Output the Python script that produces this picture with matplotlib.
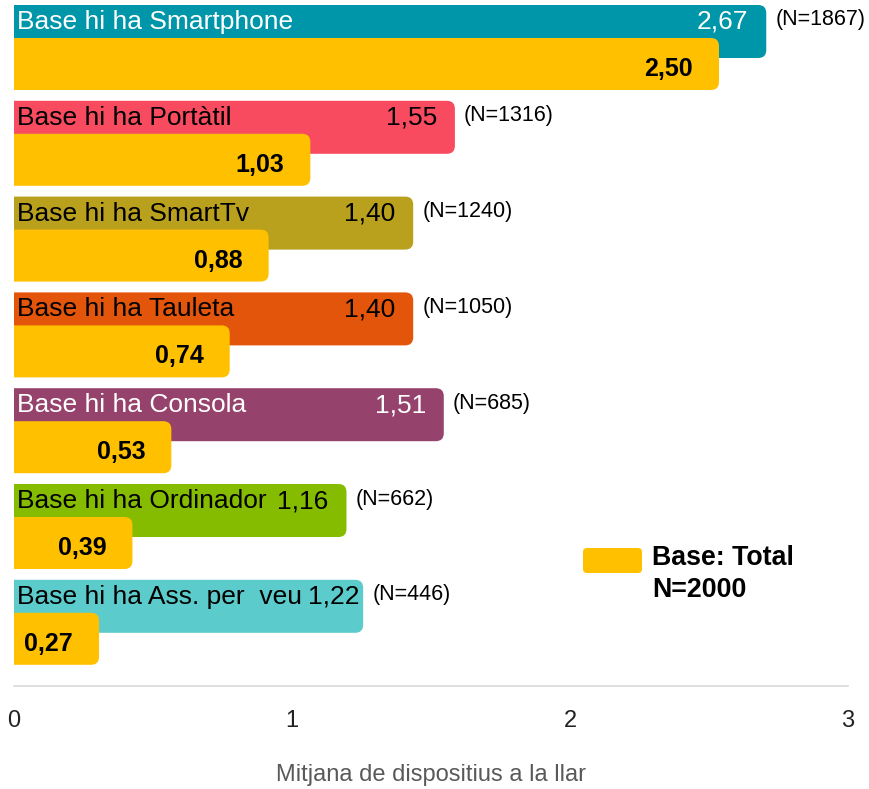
import matplotlib
matplotlib.use('Agg')
import matplotlib.pyplot as plt
from matplotlib.patches import FancyBboxPatch
from matplotlib.transforms import IdentityTransform

plt.rcParams['font.family'] = ['Liberation Sans', 'DejaVu Sans']

# dades
categories = ['Smartphone', 'Portàtil', 'SmartTv', 'Tauleta', 'Consola', 'Ordinador', 'Ass. per  veu']
base_devices = [2.67, 1.55, 1.40, 1.40, 1.51, 1.16, 1.22]
total_devices = [2.50, 1.03, 0.88, 0.74, 0.53, 0.39, 0.27]
base_n = [1867, 1316, 1240, 1050, 685, 662, 446]
total_n = 2000

colors = ['#0096A9', '#F84B5F', '#B9A01D', '#E3550B', '#95426C', '#85BC00', '#5BCBCB']
text_colors = ['white', 'black', 'black', 'black', 'white', 'black', 'black']
yellow = '#FFC000'

W, H = 869, 789
fig = plt.figure(figsize=(W / 100, H / 100), dpi=100)
ax = fig.add_axes([14 / W, 103 / H, 834 / W, 686 / H])

group_px = 95.8
px_x = 3 / 834           # unitats x per pixel
px_y = 1 / group_px      # unitats y per pixel
aspect = px_y / px_x
ax.set_xlim(0, 3)
ax.set_ylim(686 * px_y, 0)

pad = 10 * px_x
radius = 8 * px_x


def rounded_bar(y, value, height, color):
    # barra amb cantonades arrodonides (la part esquerra queda retallada)
    p = FancyBboxPatch((-0.1, y), value + 0.1 + pad, height,
                       boxstyle=f'round,pad=0,rounding_size={radius}',
                       mutation_aspect=aspect, facecolor=color, edgecolor='none')
    ax.add_patch(p)


labels = []
for i in range(len(categories)):
    rounded_bar(i + 5 * px_y, base_devices[i], 53 * px_y, colors[i])
    rounded_bar(i + 38 * px_y, total_devices[i], 52 * px_y, yellow)

    ty = i + 22 * px_y
    t = ax.annotate(f'Base hi ha {categories[i]}', (0, ty), xytext=(2.5, 0), textcoords='offset points',
                    ha='left', va='center', fontsize=19, color=text_colors[i])
    labels.append(t)
    ax.annotate(f'(N={base_n[i]})', (base_devices[i], i + 20 * px_y), xytext=(19 * 0.72, 0),
                textcoords='offset points', ha='left', va='center', fontsize=15.5, color='black')
    ax.annotate(f'{total_devices[i]:.2f}'.replace('.', ','), (total_devices[i], i + 69 * px_y),
                xytext=(-16 * 0.72, 0), textcoords='offset points',
                ha='right', va='center', fontsize=18, fontweight='bold', color='black')

# valors de la barra de color: a la dreta, sense trepitjar l'etiqueta
fig.canvas.draw()
r = fig.canvas.get_renderer()
for i in range(len(categories)):
    ty = i + 22 * px_y
    x_end = ax.transData.transform((base_devices[i], ty))[0] - 6
    lab_end = labels[i].get_window_extent(r).x1
    txt = f'{base_devices[i]:.2f}'.replace('.', ',')
    if x_end - lab_end < 58:
        ax.annotate(txt, (lab_end + 6, ax.transData.transform((0, ty))[1]),
                    xycoords=IdentityTransform(), ha='left', va='center', fontsize=19, color=text_colors[i])
    else:
        ax.annotate(txt, (base_devices[i], ty), xytext=(-8 * 0.72, 0),
                    textcoords='offset points', ha='right', va='center', fontsize=19, color=text_colors[i])

for s in ['top', 'right', 'left']:
    ax.spines[s].set_visible(False)
ax.spines['bottom'].set_color('#D9D9D9')
ax.spines['bottom'].set_linewidth(1.2)
ax.set_yticks([])
ax.set_xticks([0, 1, 2, 3])
ax.set_xticklabels(['0', '1', '2', '3'])
ax.tick_params(axis='x', length=0, pad=17, labelsize=17, labelcolor='#222222')
ax.set_xlabel('Mitjana de dispositius a la llar', fontsize=17, color='#595959', labelpad=23)

# llegenda
leg = FancyBboxPatch((583, H - 573), 59, 25, boxstyle='round,pad=0,rounding_size=4',
                     facecolor=yellow, edgecolor='none', transform=IdentityTransform())
fig.patches.append(leg)
fig.text(652 / W, 1 - 558 / H, 'Base: Total', fontsize=19.3, fontweight='bold', va='center', ha='left')
fig.text(652 / W, 1 - 590 / H, f'N={total_n}', fontsize=19.3, fontweight='bold', va='center', ha='left')

fig.savefig('out.png', dpi=100)
